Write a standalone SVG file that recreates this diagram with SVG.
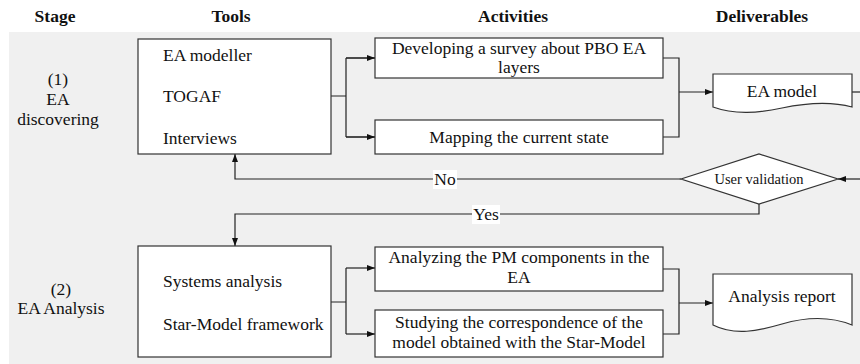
<svg xmlns="http://www.w3.org/2000/svg" width="860" height="364" viewBox="0 0 860 364">
  <style>
    text { font-family: "Liberation Serif", "Times New Roman", serif; font-size: 17.5px; fill: #111; }
    .hd { font-weight: bold; text-anchor: middle; }
    .mid { text-anchor: middle; }
    .box { fill: #fff; stroke: #333; stroke-width: 1.2; }
    .edge { fill: none; stroke: #222; stroke-width: 1.2; }
    .lbl { fill: #fff; stroke: none; }
    .small { font-size: 14.5px; }
  </style>
  <defs>
    <marker id="arr" markerUnits="userSpaceOnUse" markerWidth="9" markerHeight="7" refX="8" refY="3" orient="auto">
      <path d="M0,0 L8,3 L0,6 z" fill="#111"/>
    </marker>
  </defs>

  <!-- backdrop of the stage rows -->
  <rect x="9" y="32" width="851" height="332" fill="#f0f0f0"/>

  <!-- column headings -->
  <g id="headers">
    <text class="hd" x="55" y="22">Stage</text>
    <text class="hd" x="231" y="22">Tools</text>
    <text class="hd" x="513" y="22">Activities</text>
    <text class="hd" x="762" y="22">Deliverables</text>
  </g>

  <!-- stage names -->
  <g id="stage1">
    <text class="mid" x="58" y="85">(1)</text>
    <text class="mid" x="58" y="105">EA</text>
    <text class="mid" x="58" y="125">discovering</text>
  </g>
  <g id="stage2">
    <text class="mid" x="61" y="295">(2)</text>
    <text class="mid" x="61" y="314">EA Analysis</text>
  </g>

  <!-- connectors -->
  <g id="connectors">
    <path class="edge" d="M331,96 H346 M346,58 V137 M346,58 H375 M346,137 H375" />
    <path class="edge" d="M346,58 H375" marker-end="url(#arr)"/>
    <path class="edge" d="M346,137 H375" marker-end="url(#arr)"/>
    <path class="edge" d="M663,58 H679 V137 H663"/>
    <path class="edge" d="M679,92 H713" marker-end="url(#arr)"/>
    <path class="edge" d="M852,92 H860"/>
    <path class="edge" d="M860,179 H838" marker-end="url(#arr)"/>
    <path class="edge" d="M681,179 H235 V154" marker-end="url(#arr)"/>
    <path class="edge" d="M759,204 V214 H235 V246" marker-end="url(#arr)"/>
    <path class="edge" d="M331,302 H346 M346,268 V334"/>
    <path class="edge" d="M346,268 H375" marker-end="url(#arr)"/>
    <path class="edge" d="M346,334 H375" marker-end="url(#arr)"/>
    <path class="edge" d="M663,269 H679 V334 H663"/>
    <path class="edge" d="M679,303 H713" marker-end="url(#arr)"/>
    <rect class="lbl" x="433" y="170" width="24" height="19"/>
    <text class="mid" x="445" y="185">No</text>
    <rect class="lbl" x="472" y="205" width="28" height="19"/>
    <text class="mid" x="486" y="220">Yes</text>
  </g>

  <!-- tools -->
  <g id="tools1">
    <rect class="box" x="138" y="39" width="193" height="115"/>
    <text x="163" y="61">EA modeller</text>
    <text x="163" y="102">TOGAF</text>
    <text x="163" y="144">Interviews</text>
  </g>
  <g id="tools2">
    <rect class="box" x="138" y="246" width="193" height="111"/>
    <text x="163" y="287">Systems analysis</text>
    <text x="163" y="330">Star-Model framework</text>
  </g>

  <!-- activities -->
  <g id="act-survey">
    <rect class="box" x="375" y="38" width="288" height="40"/>
    <text class="mid" x="519" y="54">Developing a survey about PBO EA</text>
    <text class="mid" x="519" y="73">layers</text>
  </g>
  <g id="act-mapping">
    <rect class="box" x="375" y="120" width="288" height="34"/>
    <text class="mid" x="519" y="143">Mapping the current state</text>
  </g>
  <g id="act-analyzing">
    <rect class="box" x="375" y="247" width="288" height="44"/>
    <text class="mid" x="519" y="263">Analyzing the PM components in the</text>
    <text class="mid" x="519" y="283">EA</text>
  </g>
  <g id="act-studying">
    <rect class="box" x="375" y="310" width="288" height="47"/>
    <text class="mid" x="519" y="328">Studying the correspondence of the</text>
    <text class="mid" x="519" y="348">model obtained with the Star-Model</text>
  </g>

  <!-- deliverables -->
  <g id="ea-model">
    <path class="box" d="M713,74 H852 V107 C830,101 806,103 782,108 S735,115 713,107 Z"/>
    <text class="mid" x="782" y="97">EA model</text>
  </g>
  <g id="analysis-report">
    <path class="box" d="M713,274 H852 V325 C830,316 806,317 782,324 S735,336 713,325 Z"/>
    <text class="mid" x="782" y="302">Analysis report</text>
  </g>

  <!-- decision -->
  <g id="user-validation">
    <polygon class="box" points="681,179 759,154 838,179 759,204"/>
    <text class="mid small" x="759" y="184">User validation</text>
  </g>
</svg>
